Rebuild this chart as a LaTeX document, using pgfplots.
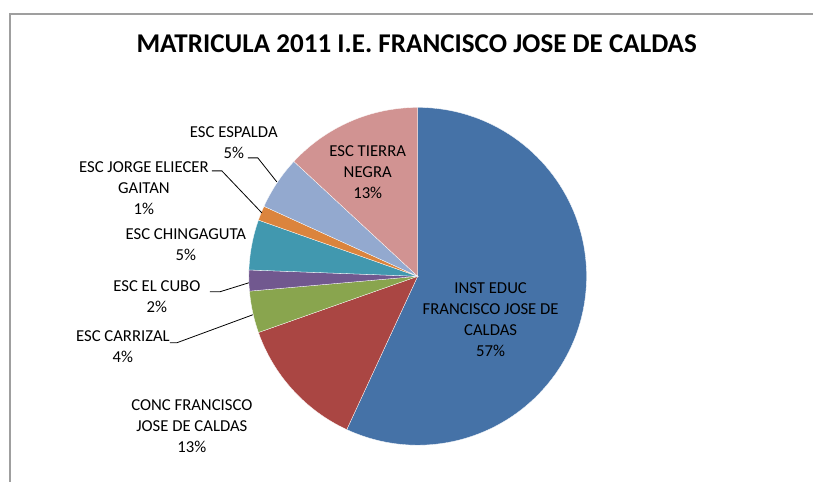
\documentclass[border=0pt]{standalone}
\usepackage{pgfplots}
\pgfplotsset{compat=1.18}
\usepackage{pgfplotstable}
\usepackage{fontspec}
\setmainfont{Carlito}

% Excel 2007 default pie colours
\definecolor{cInst}{HTML}{4572A7}
\definecolor{cConc}{HTML}{AA4643}
\definecolor{cCarr}{HTML}{89A54E}
\definecolor{cCubo}{HTML}{71588F}
\definecolor{cChin}{HTML}{4198AF}
\definecolor{cJorg}{HTML}{DB843D}
\definecolor{cEspa}{HTML}{93A9CF}
\definecolor{cTier}{HTML}{D19392}

\tikzset{lbl/.style={font=\fontsize{16.7bp}{21bp}\selectfont, align=center, text=black}}

% share of each school, percent, in drawing order (clockwise from top)
\pgfplotstableread{
idx val
0 56.9
1 12.7
2 4.0
3 2.0
4 4.8
5 1.4
6 5.1
7 13.1
}\piedata

% start/end angle of every slice
\def\cum{0}
\pgfplotsforeachungrouped \i in {0,...,7}{%
  \pgfplotstablegetelem{\i}{val}\of\piedata
  \let\curval\pgfplotsretval
  \pgfmathsetmacro\angA{90-3.6*\cum}%
  \pgfmathsetmacro\cum{\cum+\curval}%
  \pgfmathsetmacro\angB{90-3.6*\cum}%
  \expandafter\xdef\csname pa\i\endcsname{\angA}%
  \expandafter\xdef\csname pb\i\endcsname{\angB}%
  \expandafter\xdef\csname pv\i\endcsname{\curval}%
}

\newcommand\slice[2]{%
  \fill[#2, draw=white, line width=0.3bp] (axis cs:418,276.5)
    -- ++(\csname pa#1\endcsname:169bp)
    arc[start angle=\csname pa#1\endcsname, end angle=\csname pb#1\endcsname, radius=169bp]
    -- cycle;}
\newcommand\pct[1]{\pgfmathprintnumber[fixed,precision=0,assume math mode=true]{\csname pv#1\endcsname}\%}

\begin{document}
\begin{tikzpicture}
\begin{axis}[
    scale only axis,
    width=814bp, height=482bp,
    xmin=0, xmax=814, ymin=0, ymax=482,
    y dir=reverse,
    hide axis,
    clip=false,
]
\path (axis cs:0,0) rectangle (axis cs:814,482);
\draw[gray!75, line width=1.2bp] (axis cs:10,482) -- (axis cs:10,14) -- (axis cs:814,14);

\node[font=\bfseries\fontsize{27.1bp}{33bp}\selectfont] at (axis cs:417,44) {MATRICULA 2011 I.E. FRANCISCO JOSE DE CALDAS};

\slice{0}{cInst}
\slice{1}{cConc}
\slice{2}{cCarr}
\slice{3}{cCubo}
\slice{4}{cChin}
\slice{5}{cJorg}
\slice{6}{cEspa}
\slice{7}{cTier}

% leader lines
\draw[black, line width=0.8bp] (axis cs:248,158) -- (axis cs:258,158) -- (axis cs:277,182);
\draw[black, line width=0.8bp] (axis cs:212,171) -- (axis cs:222,171) -- (axis cs:262,213);
\draw[black, line width=0.8bp] (axis cs:210,292) -- (axis cs:220,292) -- (axis cs:249,283);
\draw[black, line width=0.8bp] (axis cs:170,343) -- (axis cs:177,343) -- (axis cs:253,315);

\node[lbl] at (axis cs:491,320) {INST EDUC\\FRANCISCO JOSE DE\\CALDAS\\\pct{0}};
\node[lbl] at (axis cs:192,426) {CONC FRANCISCO\\JOSE DE CALDAS\\\pct{1}};
\node[lbl] at (axis cs:123,347) {ESC CARRIZAL\\\pct{2}};
\node[lbl] at (axis cs:157,297) {ESC EL CUBO\\\pct{3}};
\node[lbl] at (axis cs:186,245) {ESC CHINGAGUTA\\\pct{4}};
\node[lbl] at (axis cs:144,188) {ESC JORGE ELIECER\\GAITAN\\\pct{5}};
\node[lbl] at (axis cs:234,143) {ESC ESPALDA\\\pct{6}};
\node[lbl] at (axis cs:368,172) {ESC TIERRA\\NEGRA\\\pct{7}};
\end{axis}
\end{tikzpicture}
\end{document}
